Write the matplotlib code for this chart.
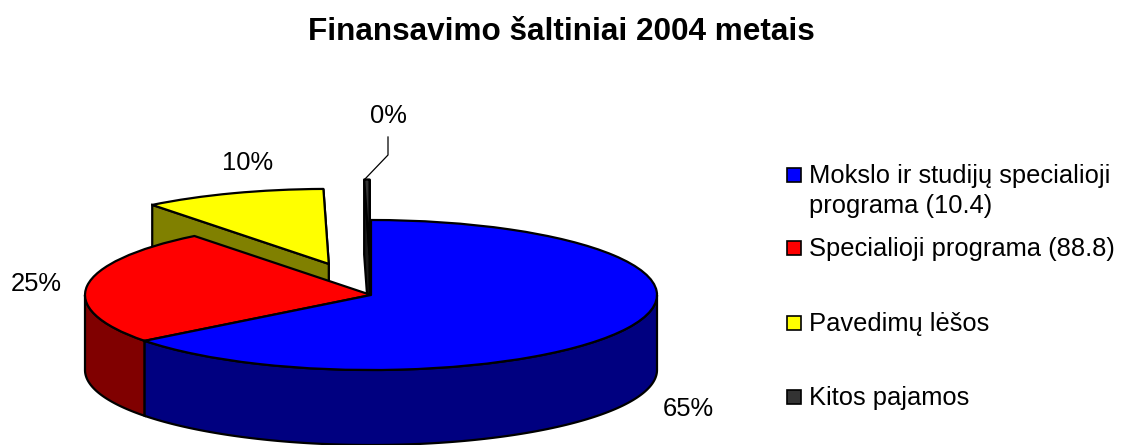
import numpy as np
import matplotlib.pyplot as plt
from matplotlib.patches import Polygon, Rectangle
from matplotlib.lines import Line2D

plt.rcParams['font.family'] = ['Liberation Sans', 'DejaVu Sans']

title = "Finansavimo šaltiniai 2004 metais"
names = ["Mokslo ir studijų specialioji\nprograma (10.4)", "Specialioji programa (88.8)",
         "Pavedimų lėšos", "Kitos pajamos"]
shares = [64.6, 24.9, 10.3, 0.3]
explode = [0, 0, 0.44, 0.54]
top_colors = ["#0000ff", "#ff0000", "#ffff00", "#333333"]
side_colors = ["#000080", "#800000", "#808000", "#1a1a1a"]
label_pos = [(688, 409), (36, 284), (248, 163), (388, 116)]
legend_y = [175, 248, 323, 397]

W, H = 1121, 445
cx, cy, rx, ry = 371, 295, 286, 75
depth = 1.0

fig = plt.figure(figsize=(W / 100, H / 100), dpi=100, facecolor="white")
ax = fig.add_axes([0, 0, 1, 1])


def fx(p):
    return p / W


def fy(p):
    return 1 - p / H


wedges, _ = ax.pie(shares, explode=explode, colors=top_colors, startangle=90, counterclock=False,
                   wedgeprops=dict(edgecolor="black", linewidth=1.6, joinstyle="round"))
# squash the circle, 1 unit is rx pixels across and ry pixels down
ax.set_aspect("auto")
ax.set_xlim(-cx / rx, (W - cx) / rx)
ax.set_ylim(-(H - cy) / ry, cy / ry)
ax.axis("off")

# back slices first, so the front ones cover them
order = [3, 2, 1, 0]
for z, i in enumerate(order):
    w = wedges[i]
    x0, y0 = w.center
    base = z * 3 + 1
    if explode[i] > 0:
        # cut faces show because the slice is pulled out
        for t in [w.theta1, w.theta2]:
            a = np.radians(t)
            ex, ey = x0 + np.cos(a), y0 + np.sin(a)
            face = [(x0, y0), (ex, ey), (ex, ey - depth), (x0, y0 - depth)]
            ax.add_patch(Polygon(face, closed=True, facecolor=side_colors[i], edgecolor="black",
                                 linewidth=1.6, zorder=base))
    th = np.radians(np.linspace(w.theta1, w.theta2, 1500))
    th = th[np.sin(th) < 0]
    if len(th) > 1:
        xs = x0 + np.cos(th)
        ys = y0 + np.sin(th)
        rim = np.column_stack([np.r_[xs, xs[::-1]], np.r_[ys, ys[::-1] - depth]])
        ax.add_patch(Polygon(rim, closed=True, facecolor=side_colors[i], edgecolor="black",
                             linewidth=1.6, zorder=base + 1))
    w.set_zorder(base + 2)

total = sum(shares)
for v, (px, py) in zip(shares, label_pos):
    fig.text(fx(px), fy(py), f"{round(v / total * 100)}%", fontsize=18.4, color="black",
             ha="center", va="center")

# leader line to the 0% label
fig.add_artist(Line2D([fx(388), fx(388), fx(365)], [fy(137), fy(155), fy(179)],
                      color="black", linewidth=0.9))

fig.text(fx(561), fy(32), title, fontsize=22.7, fontweight="bold", ha="center", va="center")

for name, c, y in zip(names, top_colors, legend_y):
    fig.add_artist(Rectangle((fx(787), fy(y + 7)), 14 / W, 14 / H, transform=fig.transFigure,
                             facecolor=c, edgecolor="black", linewidth=1.2))
    fig.text(fx(809), fy(y - 11), name, fontsize=18.4, ha="left", va="top", linespacing=1.3)

fig.savefig("out.png", dpi=100)
